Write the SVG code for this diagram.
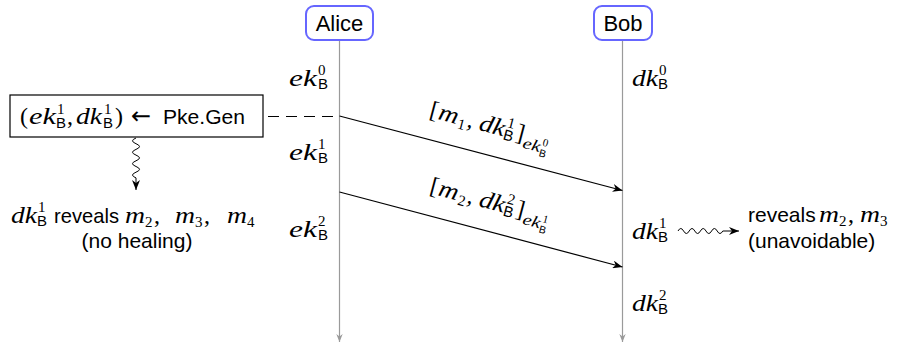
<svg xmlns="http://www.w3.org/2000/svg" width="904" height="346" viewBox="0 0 904 346">
<style>
.mi{font-family:"Liberation Serif","Times New Roman",serif;font-style:italic;font-size:24px;fill:#000}
.rm{font-family:"Liberation Serif","Times New Roman",serif;font-size:24px;fill:#000}
.sup{font-family:"Liberation Serif","Times New Roman",serif;font-size:15px;fill:#000}
.mis{font-family:"Liberation Serif","Times New Roman",serif;font-style:italic;font-size:16px;fill:#000}
.sb{font-family:"Liberation Sans",Arial,sans-serif;font-size:15px;fill:#000}
.sup2{font-family:"Liberation Serif","Times New Roman",serif;font-size:11px;fill:#000}
.sb2{font-family:"Liberation Sans",Arial,sans-serif;font-size:10.5px;fill:#000}
.sf{font-family:"Liberation Sans",Arial,sans-serif;font-size:21px;fill:#000}
.nm{font-family:"Liberation Sans",Arial,sans-serif;font-size:22px;fill:#000}
.actor{fill:#fff;stroke:#6666ff;stroke-width:2}
.life{stroke:#9a9a9a;stroke-width:1.2;fill:none}
.msg{stroke:#000;stroke-width:1.2;fill:none}
.wave{stroke:#000;stroke-width:1;fill:none}
</style>
<defs>
<marker id="ah" viewBox="0 0 10 8" refX="10" refY="4" markerWidth="10" markerHeight="8" markerUnits="userSpaceOnUse" orient="auto"><path d="M0,0 L10,4 L0,8 L3,4 z" fill="#000"/></marker>
<marker id="ahg" viewBox="0 0 10 8" refX="10" refY="4" markerWidth="8" markerHeight="7" markerUnits="userSpaceOnUse" orient="auto"><path d="M0,0 L10,4 L0,8 L3,4 z" fill="#9a9a9a"/></marker>
</defs>

<g id="connectors">
<line class="life" x1="339.5" y1="40" x2="339.5" y2="342" marker-end="url(#ahg)"/>
<line class="life" x1="622.5" y1="40" x2="622.5" y2="342" marker-end="url(#ahg)"/>
<line x1="268" y1="116.5" x2="339.5" y2="116.5" stroke="#000" stroke-width="1.1" stroke-dasharray="11 7"/>
<line class="msg" x1="339.5" y1="116" x2="622.5" y2="190.5" marker-end="url(#ah)"/>
<line class="msg" x1="339.5" y1="192" x2="622.5" y2="267" marker-end="url(#ah)"/>
<path class="wave" d="M136,138 q -7,2.85 0,5.7 t 0,5.7 t 0,5.7 t 0,5.7 t 0,5.7 t 0,5.7 t 0,5.7 L136,190" marker-end="url(#ah)"/>
<path class="wave" d="M678,231 q 2.8,-5 5.6,0 t 5.6,0 t 5.6,0 t 5.6,0 t 5.6,0 t 5.6,0 t 5.6,0 t 5.6,0 L739,231" marker-end="url(#ah)"/>
</g>

<g id="alice">
<rect class="actor" x="306" y="6" width="67" height="34" rx="8"/>
<text class="nm" x="339.5" y="31" text-anchor="middle">Alice</text>
</g>

<g id="bob">
<rect class="actor" x="594" y="6" width="58" height="34" rx="8"/>
<text class="nm" x="623" y="31" text-anchor="middle">Bob</text>
</g>

<g id="alice-keys">
<text class="mi" x="289" y="86" textLength="28" lengthAdjust="spacingAndGlyphs">ek</text><text class="sup" x="318" y="75">0</text><text class="sb" x="318" y="89">B</text>
<text class="mi" x="289" y="160" textLength="28" lengthAdjust="spacingAndGlyphs">ek</text><text class="sup" x="318" y="149">1</text><text class="sb" x="318" y="163">B</text>
<text class="mi" x="289" y="237" textLength="28" lengthAdjust="spacingAndGlyphs">ek</text><text class="sup" x="318" y="226">2</text><text class="sb" x="318" y="240">B</text>
</g>

<g id="bob-keys">
<text class="mi" x="632" y="86" textLength="26" lengthAdjust="spacingAndGlyphs">dk</text><text class="sup" x="659" y="75">0</text><text class="sb" x="658" y="89">B</text>
<text class="mi" x="632" y="239" textLength="26" lengthAdjust="spacingAndGlyphs">dk</text><text class="sup" x="659" y="228">1</text><text class="sb" x="658" y="242">B</text>
<text class="mi" x="632" y="311" textLength="26" lengthAdjust="spacingAndGlyphs">dk</text><text class="sup" x="659" y="300">2</text><text class="sb" x="658" y="314">B</text>
</g>

<g id="pke">
<rect x="10" y="95" width="253" height="42" fill="#fff" stroke="#000" stroke-width="1.2"/>
<text class="rm" x="20" y="124">(</text>
<text class="mi" x="29" y="124" textLength="27" lengthAdjust="spacingAndGlyphs">ek</text><text class="sup" x="57" y="114">1</text><text class="sb" x="56" y="128">B</text>
<text class="rm" x="67" y="124">,</text>
<text class="mi" x="76" y="124" textLength="26" lengthAdjust="spacingAndGlyphs">dk</text><text class="sup" x="104" y="114">1</text><text class="sb" x="103" y="128">B</text>
<text class="rm" x="115" y="124">)</text>
<text x="131" y="124" font-family="DejaVu Sans,sans-serif" font-size="24">←</text>
<text class="sf" x="163" y="124" textLength="82" lengthAdjust="spacingAndGlyphs">Pke.Gen</text>
</g>

<g id="msg1-label" transform="translate(481,153.3) rotate(14.8)">
<text class="rm" x="-60" y="-22">[</text>
<text class="mi" x="-51" y="-22" textLength="20" lengthAdjust="spacingAndGlyphs">m</text><text class="sup" x="-30" y="-18">1</text>
<text class="rm" x="-21" y="-22">,</text>
<text class="mi" x="-9" y="-22" textLength="26" lengthAdjust="spacingAndGlyphs">dk</text><text class="sup" x="18" y="-32">1</text><text class="sb" x="17" y="-19">B</text>
<text class="rm" x="29" y="-22">]</text>
<text class="mis" x="38" y="-16" textLength="18" lengthAdjust="spacingAndGlyphs">ek</text><text class="sup2" x="57" y="-23">0</text><text class="sb2" x="56" y="-12">B</text>
</g>

<g id="msg2-label" transform="translate(481,229.5) rotate(14.9)">
<text class="rm" x="-60" y="-22">[</text>
<text class="mi" x="-51" y="-22" textLength="20" lengthAdjust="spacingAndGlyphs">m</text><text class="sup" x="-30" y="-18">2</text>
<text class="rm" x="-21" y="-22">,</text>
<text class="mi" x="-9" y="-22" textLength="26" lengthAdjust="spacingAndGlyphs">dk</text><text class="sup" x="18" y="-32">2</text><text class="sb" x="17" y="-19">B</text>
<text class="rm" x="29" y="-22">]</text>
<text class="mis" x="38" y="-16" textLength="18" lengthAdjust="spacingAndGlyphs">ek</text><text class="sup2" x="57" y="-23">1</text><text class="sb2" x="56" y="-12">B</text>
</g>

<g id="leak-left">
<text class="mi" x="11" y="223" textLength="26" lengthAdjust="spacingAndGlyphs">dk</text><text class="sup" x="38" y="212">1</text><text class="sb" x="37" y="226">B</text>
<text class="sf" x="54" y="223" textLength="65" lengthAdjust="spacingAndGlyphs">reveals</text>
<text class="mi" x="125" y="223" textLength="20" lengthAdjust="spacingAndGlyphs">m</text><text class="sup" x="145" y="227">2</text><text class="rm" x="154" y="223">,</text>
<text class="mi" x="175" y="223" textLength="20" lengthAdjust="spacingAndGlyphs">m</text><text class="sup" x="195" y="227">3</text><text class="rm" x="204" y="223">,</text>
<text class="mi" x="227" y="223" textLength="20" lengthAdjust="spacingAndGlyphs">m</text><text class="sup" x="247" y="227">4</text>
<text class="sf" x="137" y="248" text-anchor="middle">(no healing)</text>
</g>

<g id="leak-right">
<text class="sf" x="748" y="222">reveals</text>
<text class="mi" x="819" y="222" textLength="20" lengthAdjust="spacingAndGlyphs">m</text><text class="sup" x="839" y="226">2</text><text class="rm" x="848" y="222">,</text>
<text class="mi" x="860" y="222" textLength="20" lengthAdjust="spacingAndGlyphs">m</text><text class="sup" x="880" y="226">3</text>
<text class="sf" x="748" y="248">(unavoidable)</text>
</g>
</svg>
